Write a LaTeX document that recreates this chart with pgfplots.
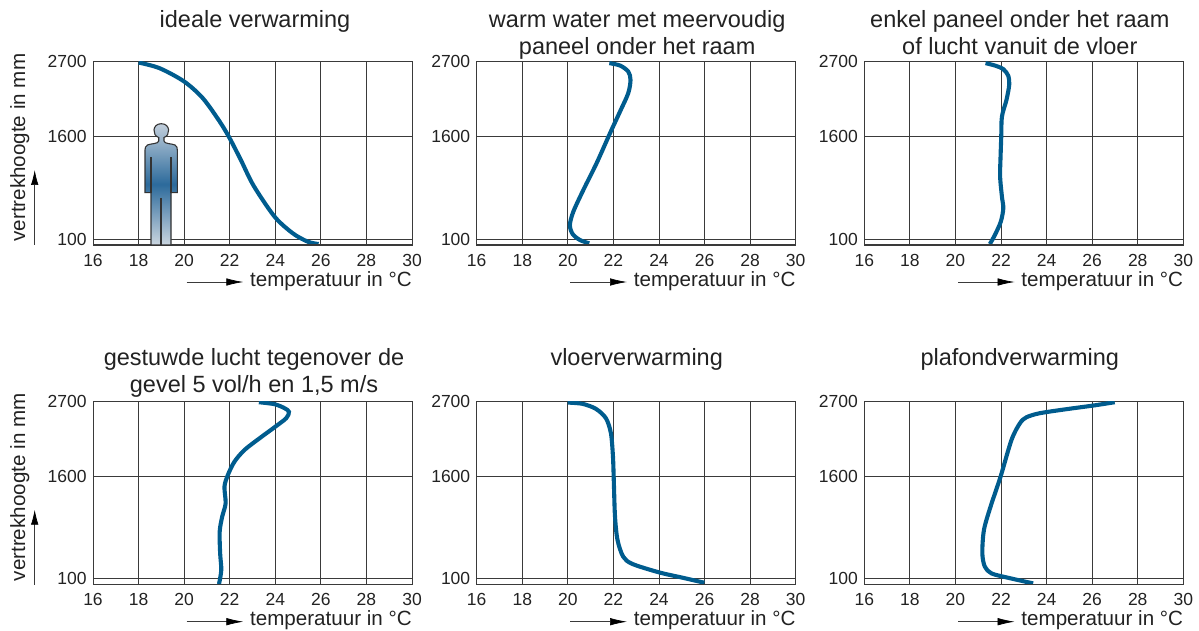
\documentclass[border=0pt]{standalone}
\usepackage{pgfplots}
\pgfplotsset{compat=1.18}
\usepackage{pgfplotstable}
\usepackage{fontspec}
\setmainfont{Liberation Sans}
\usetikzlibrary{arrows.meta}
\definecolor{curve}{HTML}{005C8E}
\definecolor{gridc}{HTML}{3A3A3A}
\definecolor{txt}{HTML}{222222}
\definecolor{figtop}{HTML}{C2CFDC}
\definecolor{figmid}{HTML}{2C6A9B}
\definecolor{figbot}{HTML}{CBD6E0}
\pgfplotstableread{
T mm
18.00 2685
18.92 2602
20.00 2407
20.82 2162
21.56 1820
22.00 1575
22.50 1250
23.05 880
23.97 427
24.77 183
25.43 60
25.90 26
}\dataA
\pgfplotstableread{
T mm
21.82 2676
22.29 2641
22.65 2553
22.75 2431
22.65 2236
22.29 1967
21.85 1649
21.26 1209
20.68 818
20.24 500
20.09 305
20.21 173
20.53 85
20.94 36
}\dataB
\pgfplotstableread{
T mm
21.32 2676
21.73 2641
22.10 2588
22.32 2490
22.36 2358
22.24 2138
22.04 1893
22.01 1600
21.98 1307
21.96 1014
22.04 720
22.10 549
21.99 354
21.73 158
21.51 26
}\dataC
\pgfplotstableread{
T mm
23.28 2685
23.97 2656
24.41 2597
24.60 2544
24.48 2451
23.97 2319
23.31 2157
22.65 1986
22.21 1815
21.92 1620
21.77 1449
21.82 1204
21.67 1009
21.56 789
21.58 471
21.63 227
21.53 21
}\dataD
\pgfplotstableread{
T mm
19.99 2680
20.65 2661
21.23 2588
21.67 2451
21.89 2231
21.98 1889
22.02 1498
22.07 1009
22.18 667
22.43 422
22.84 315
24.01 192
25.04 114
25.99 41
}\dataE
\pgfplotstableread{
T mm
26.99 2685
26.04 2636
24.87 2583
23.70 2524
23.12 2465
22.83 2377
22.46 2133
21.98 1595
21.54 1155
21.25 813
21.18 471
21.29 276
21.58 178
22.24 119
23.41 31
}\dataF
\pgfplotsset{
  panel/.style={
    scale only axis, width=319pt, height=183.5pt,
    xmin=16, xmax=30, ymin=12, ymax=2700,
    xtick={16,18,...,30}, ytick={100,1600,2700},
    grid=major,
    major grid style={draw=gridc,line width=0.8pt},
    axis line style={draw=gridc,line width=0.8pt},
    major tick length=0pt,
    /pgf/number format/assume math mode=true,
    /pgf/number format/1000 sep={},
    tick label style={font=\fontsize{17.5}{20}\selectfont,text=txt,inner sep=0pt},
    xticklabel style={anchor=base,yshift=-21pt},
    yticklabel style={anchor=east,xshift=-6.3pt},
    title style={at={(0.5,1)},anchor=south,align=center,inner sep=0pt,
      font=\fontsize{23.5}{27}\selectfont,text=txt},
    xlabel={temperatuur in °C},
    xlabel style={at={(1,0)},anchor=base east,inner sep=0pt,yshift=-41pt,
      font=\fontsize{20.6}{24}\selectfont,text=txt},
    ylabel style={at={(0,0)},anchor=base west,inner sep=0pt,xshift=3.3pt,yshift=68pt,
      font=\fontsize{20.6}{24}\selectfont,text=txt},
  },
}
% #1 x, #2 y, #3 title shift, #4 table, #5 options
\newcommand{\panel}[5]{%
  \begin{axis}[panel,at={(#1pt,#2pt)},anchor=south west,title style={xshift=#3pt},#5]
    \addplot[curve,line width=4.1pt,smooth] table[x=T,y=mm] {#4};
    \draw[gridc,line width=2pt] (rel axis cs:0,0) -- (rel axis cs:1,0);
    \draw[gridc,line width=1.2pt] (rel axis cs:0,0) -- (rel axis cs:0,1);
  \end{axis}
  \draw[line width=0.7pt,gridc,-{Latex[length=17pt,width=7.5pt,black]}]
    ({#1pt+93.7pt},{#2pt-37pt}) -- ({#1pt+150.3pt},{#2pt-37pt});
}
\newcommand{\yarrow}[2]{%
  \draw[line width=0.7pt,gridc,-{Latex[length=15pt,width=7.5pt,black]}]
    ({#1pt-58.3pt},{#2pt}) -- ({#1pt-58.3pt},{#2pt+75pt});
}
\begin{document}
\begin{tikzpicture}[x=1pt,y=1pt]
\path[use as bounding box] (0,0) rectangle (1199pt,630pt);
\panel{93}{385}{2.5}{\dataA}{title style={yshift=-7.6pt},title={ideale verwarming\\\strut},ylabel={vertrekhoogte in mm}}
\yarrow{93}{385}
\panel{476.7}{385}{1}{\dataB}{title style={yshift=-7.6pt},title={warm water met meervoudig\\paneel onder het raam\strut}}
\panel{864.3}{385}{-4}{\dataC}{title style={yshift=-7.6pt},title={enkel paneel onder het raam\\of lucht vanuit de vloer\strut}}
\panel{93}{45.3}{1.5}{\dataD}{title style={yshift=-5.6pt},title={gestuwde lucht tegenover de\\gevel 5 vol/h en 1,5 m/s\strut},ylabel={vertrekhoogte in mm}}
\yarrow{93}{45.3}
\panel{476.7}{45.3}{0.5}{\dataE}{title style={yshift=-5.6pt},title={vloerverwarming\\\strut}}
\panel{864.3}{45.3}{-4}{\dataF}{title style={yshift=-5.6pt},title={plafondverwarming\\\strut}}
% person pictogram
\begin{scope}[yscale=-1,yshift=-630pt]
\path[draw=black!80,line width=1.1pt,top color=figtop,bottom color=figbot,middle color=figmid]
  (158.7,137.5) .. controls (152,135.5) and (152,123.7) .. (161.3,123.7)
  .. controls (170.6,123.7) and (170.6,135.5) .. (164,137.5)
  -- (164,141) .. controls (164,144) and (172,143.5) .. (175,145)
  .. controls (177,146) and (177.3,148) .. (177.3,150)
  -- (177.3,192.7) -- (171,192.7) -- (171,245) -- (151,245) -- (151,192.7) -- (145,192.7)
  -- (145,150) .. controls (145,148) and (145.5,146) .. (147.5,145)
  .. controls (150.5,143.5) and (158.7,144) .. (158.7,141) -- cycle;
\draw[black!80,line width=1.1pt] (151,157.3) -- (151,192.7) (171,157.3) -- (171,192.7) (161,198) -- (161,245);
\end{scope}
\end{tikzpicture}
\end{document}
